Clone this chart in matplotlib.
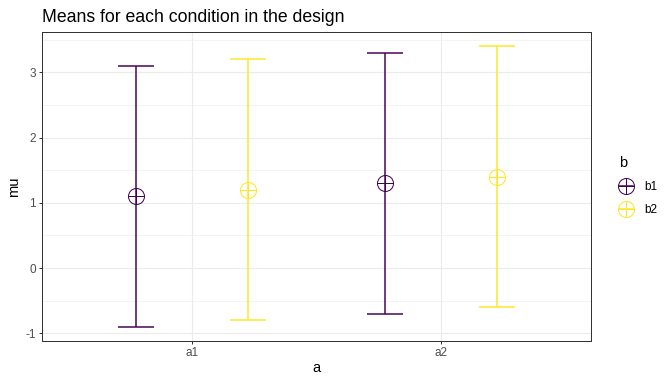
import matplotlib as mpl
import matplotlib.pyplot as plt
from matplotlib.lines import Line2D

# data
a_levels = ["a1", "a2"]
b_levels = ["b1", "b2"]
mu_b1 = [1.1, 1.3]
mu_b2 = [1.2, 1.4]
lo_b1 = [-0.9, -0.7]
hi_b1 = [3.1, 3.3]
lo_b2 = [-0.8, -0.6]
hi_b2 = [3.2, 3.4]

COLORS = {"b1": "#440154", "b2": "#FDE725"}

mpl.rcParams.update({
    "font.family": ["Liberation Sans", "DejaVu Sans"],
    "axes.linewidth": 1.0,
    "axes.unicode_minus": False,
})

DPI = 72
K = 96 / 72  # text scale
fig = plt.figure(figsize=(672 / DPI, 384 / DPI), dpi=DPI)
ax = fig.add_axes([42 / 672, 1 - 341 / 384, (591 - 42) / 672, (341 - 32) / 384])

series = [
    ("b1", mu_b1, lo_b1, hi_b1, -0.225),
    ("b2", mu_b2, lo_b2, hi_b2, 0.225),
]
handles = []
for name, mu, lo, hi, off in series:
    col = COLORS[name]
    xs = [i + 1 + off for i in range(len(a_levels))]
    yerr = [[m - l for m, l in zip(mu, lo)], [h - m for h, m in zip(hi, mu)]]
    ax.errorbar(xs, mu, yerr=yerr, fmt="none", ecolor=col, elinewidth=1.5,
                capsize=18, capthick=1.5, zorder=3)
    ax.plot(xs, mu, "o", ms=16, mfc="none", mec=col, mew=1.0, zorder=4)
    ax.plot(xs, mu, "+", ms=16, mec=col, mew=1.0, zorder=4)
    h = (Line2D([], [], color=col, lw=1.5),
         Line2D([], [], marker="o", ms=16, mfc="none", mec=col, mew=1.0, ls="none"),
         Line2D([], [], marker="+", ms=16, mec=col, mew=1.0, ls="none"))
    handles.append(h)

ax.set_xlim(0.4, 2.6)
ax.set_ylim(-1.115, 3.615)
ax.set_xticks([1, 2])
ax.set_xticklabels(a_levels)
ax.set_yticks([-1, 0, 1, 2, 3])
ax.set_yticks([-0.5, 0.5, 1.5, 2.5, 3.5], minor=True)
ax.grid(True, which="major", color="#EBEBEB", lw=1.1, zorder=0)
ax.grid(True, which="minor", axis="y", color="#EBEBEB", lw=0.55, zorder=0)
ax.set_axisbelow(True)
for s in ax.spines.values():
    s.set_color("#333333")
ax.tick_params(which="major", length=3, width=1, color="#333333",
               labelsize=8.8 * K, labelcolor="#4D4D4D", pad=3)
ax.tick_params(which="minor", length=0)

ax.set_xlabel("a", fontsize=11 * K, labelpad=2)
ax.set_ylabel("mu", fontsize=11 * K, labelpad=4)
fig.text(42 / 672, 1 - 22 / 384, "Means for each condition in the design",
         fontsize=13.2 * K, ha="left", va="baseline")

leg = fig.legend(handles, b_levels, title="b", loc="upper left",
                 bbox_to_anchor=(614 / 672, 1 - 151 / 384), frameon=False,
                 fontsize=8.8 * K, title_fontsize=11 * K, handlelength=1.2,
                 handletextpad=0.95, labelspacing=0.95, borderaxespad=0)
leg._legend_box.align = "left"

fig.savefig("out.png", dpi=DPI)
